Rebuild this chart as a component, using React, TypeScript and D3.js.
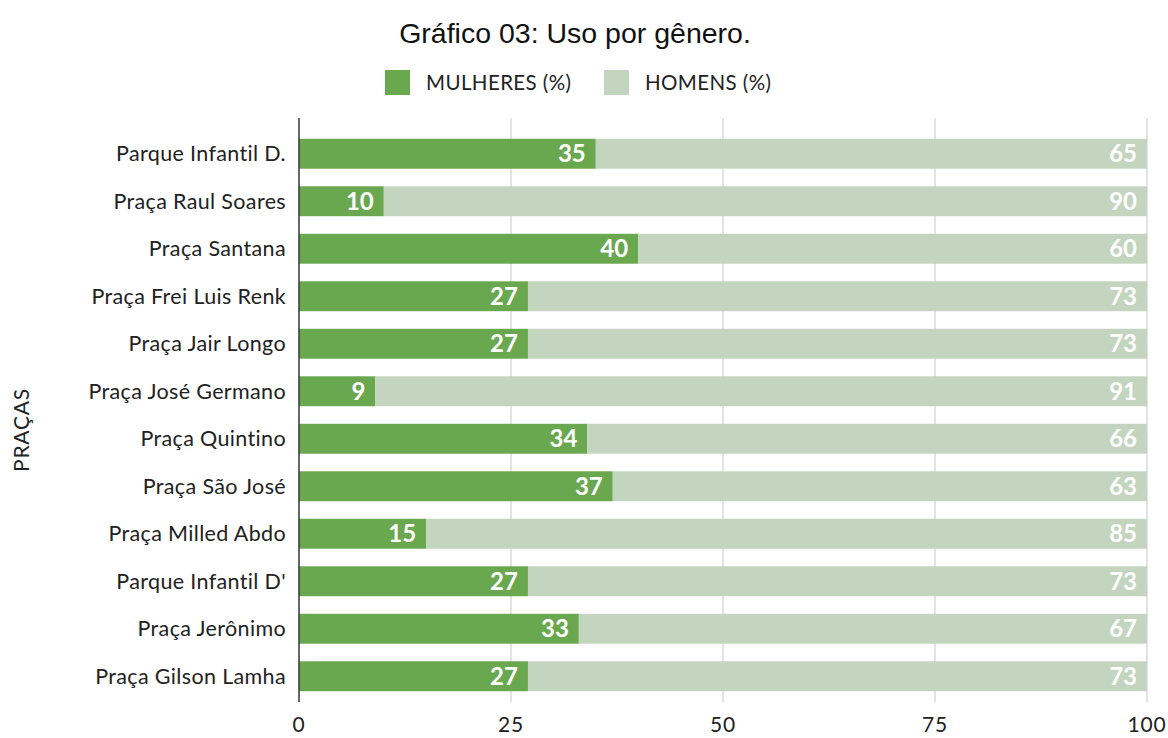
import React from "react";
import * as d3 from "d3";

const categories = [
  "Parque Infantil D.",
  "Praça Raul Soares",
  "Praça Santana",
  "Praça Frei Luis Renk",
  "Praça Jair Longo",
  "Praça José Germano",
  "Praça Quintino",
  "Praça São José",
  "Praça Milled Abdo",
  "Parque Infantil D'",
  "Praça Jerônimo",
  "Praça Gilson Lamha",
];
const mulheres = [35, 10, 40, 27, 27, 9, 34, 37, 15, 27, 33, 27];
const homens = [65, 90, 60, 73, 73, 91, 66, 63, 85, 73, 67, 73];
const ticks = [0, 25, 50, 75, 100];
const seriesNames = ["MULHERES (%)", "HOMENS (%)"];

const W = 1168;
const H = 738;
const left = 299;
const right = 1147;
const top = 130;
const colors = ["#6aa84f", "#c3d5bf"];
const font = "Lato, 'Open Sans', sans-serif";

export default function App() {
  const x = d3.scaleLinear().domain([0, 100]).range([left, right]);
  const y = d3
    .scaleBand<string>()
    .domain(categories)
    .range([top, top + 47.5 * 12])
    .paddingInner(0.37)
    .paddingOuter(0.185);
  const bh = y.bandwidth();
  return (
    <svg width={W} height={H} style={{ position: "absolute", left: 0, top: 0 }}>
      <rect width={W} height={H} fill="#fff" />
      <text x={575} y={43} textAnchor="middle" fontFamily="'Liberation Sans', Arial, sans-serif" fontSize={28.5} fill="#111">
        Gráfico 03: Uso por gênero.
      </text>
      {/* legend */}
      <rect x={385} y={70} width={25} height={25} fill={colors[0]} />
      <text x={426} y={90} fontFamily={font} fontSize={20.5} letterSpacing={0.4} fill="#222">{seriesNames[0]}</text>
      <rect x={604} y={70} width={25} height={25} fill={colors[1]} />
      <text x={645} y={90} fontFamily={font} fontSize={20.5} letterSpacing={0.4} fill="#222">{seriesNames[1]}</text>
      {/* gridlines */}
      {ticks.slice(1).map((t) => (
        <line key={t} x1={x(t)} x2={x(t)} y1={118} y2={702} stroke="#d0d0d0" strokeWidth={1.2} />
      ))}
      {/* bars */}
      {categories.map((c, i) => {
        const yy = y(c)!;
        return (
          <g key={c}>
            <rect x={x(0)} y={yy} width={x(mulheres[i]) - x(0)} height={bh} fill={colors[0]} />
            <rect x={x(mulheres[i])} y={yy} width={x(mulheres[i] + homens[i]) - x(mulheres[i])} height={bh} fill={colors[1]} />
            <text x={x(mulheres[i]) - 10} y={yy + bh / 2 + 8.5} textAnchor="end" fontFamily={font} fontWeight="bold" fontSize={24} fill="#fff">
              {mulheres[i]}
            </text>
            <text x={x(mulheres[i] + homens[i]) - 10} y={yy + bh / 2 + 8.5} textAnchor="end" fontFamily={font} fontWeight="bold" fontSize={24} fill="#fff">
              {homens[i]}
            </text>
            <text x={286} y={yy + bh / 2 + 7.5} textAnchor="end" fontFamily={font} fontSize={21.5} letterSpacing={0.35} fill="#222">
              {c}
            </text>
          </g>
        );
      })}
      <line x1={x(0)} x2={x(0)} y1={118} y2={702} stroke="#333" strokeWidth={1.5} />
      {ticks.map((t) => (
        <text key={t} x={x(t)} y={732} textAnchor="middle" fontFamily={font} fontSize={21} letterSpacing={0.8} fill="#222">
          {t}
        </text>
      ))}
      <text transform="translate(29,430) rotate(-90)" textAnchor="middle" fontFamily={font} fontSize={21} letterSpacing={0.8} fill="#222">
        PRAÇAS
      </text>
    </svg>
  );
}
